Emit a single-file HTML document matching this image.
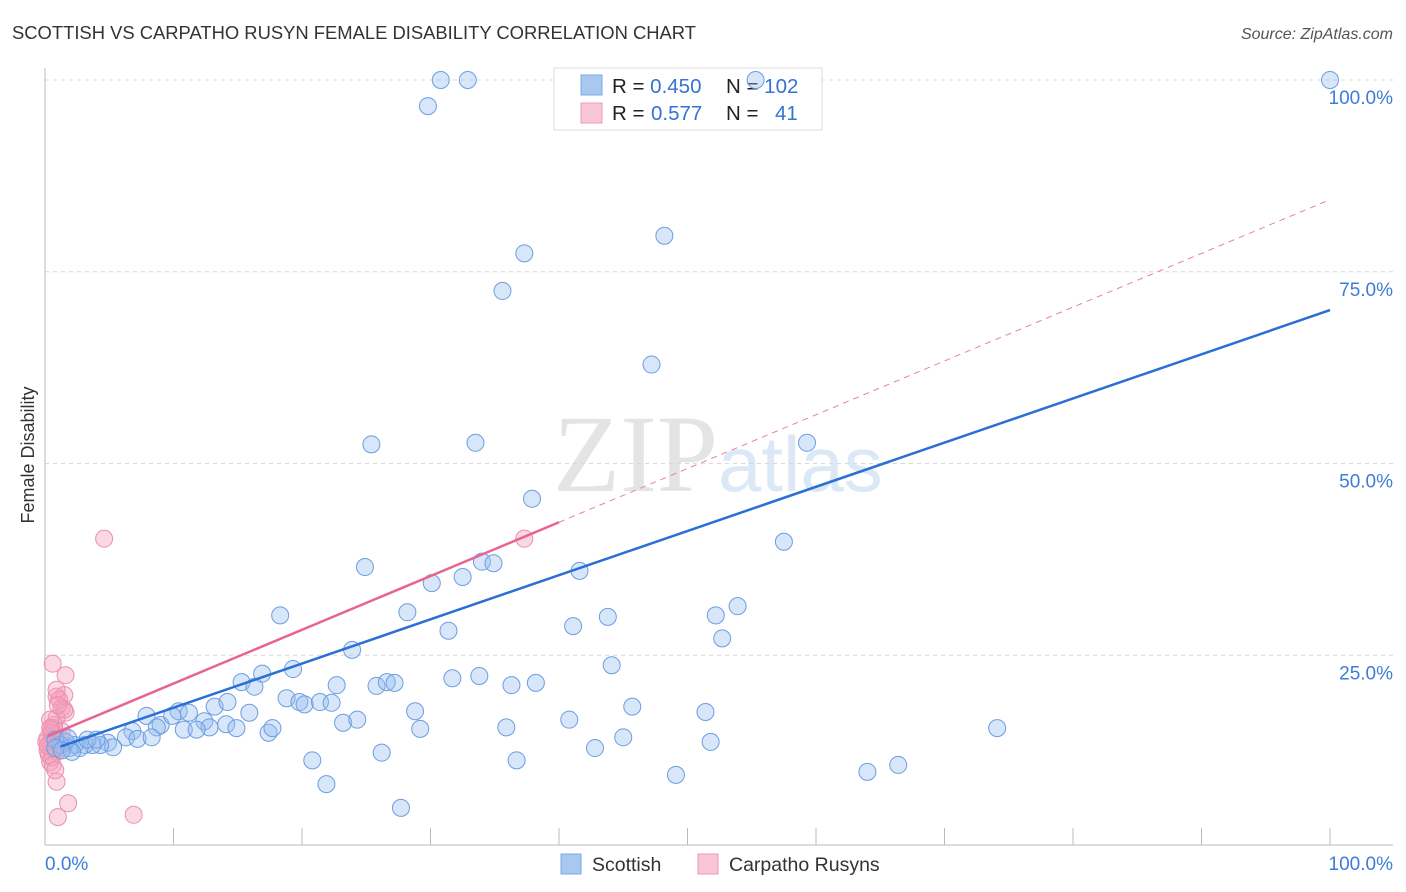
<!DOCTYPE html>
<html><head><meta charset="utf-8">
<style>
body{margin:0;background:#fff;font-family:"Liberation Sans",sans-serif;}
svg{display:block}
</style></head><body>
<svg id="chart" width="1406" height="892" viewBox="0 0 1406 892" xmlns="http://www.w3.org/2000/svg">
<text x="12" y="39" font-size="18.4" fill="#333">SCOTTISH VS CARPATHO RUSYN FEMALE DISABILITY CORRELATION CHART</text>
<text x="1393" y="39" font-size="16" fill="#555" font-style="italic" text-anchor="end">Source: ZipAtlas.com</text>
<g>
<text x="553" y="491" font-size="110" fill="#e4e4e4" font-family="Liberation Serif,serif">ZIP</text>
<text x="718" y="491" font-size="78" fill="#dde8f7">atlas</text>
</g>
<g id="grid"></g>
<g id="axes"></g>
<g>
<rect x="554" y="68" width="268" height="62" fill="#fff" stroke="#ddd"/>
<rect x="581" y="75" width="21" height="20" fill="#a9c8f0" stroke="#7aa7e3"/>
<rect x="581" y="103" width="21" height="20" fill="#f9c6d6" stroke="#ee9ab5"/>
<text x="612" y="93" font-size="20.5" fill="#222">R = <tspan fill="#3472d4">0.450</tspan><tspan x="726">N = </tspan><tspan fill="#3472d4">102</tspan></text>
<text x="612" y="120" font-size="20.5" fill="#222">R = <tspan fill="#3472d4" x="651">0.577</tspan><tspan x="726">N = </tspan><tspan fill="#3472d4" x="775">41</tspan></text>
</g>
<g id="pinkPts"></g>
<g id="bluePts"></g>
<g id="lines"></g>
<text transform="translate(34,455) rotate(-90)" font-size="18" fill="#333" text-anchor="middle">Female Disability</text>
<g>
<rect x="561" y="854" width="20" height="20" fill="#a9c8f0" stroke="#7aa7e3"/>
<text x="592" y="871" font-size="19.5" fill="#333">Scottish</text>
<rect x="698" y="854" width="20" height="20" fill="#f9c6d6" stroke="#ee9ab5"/>
<text x="729" y="871" font-size="19.5" fill="#333">Carpatho Rusyns</text>
</g>
</svg>
<script>
const yTicks=[25,50,75,100];
const yTickLabels=["25.0%","50.0%","75.0%","100.0%"];
const xTickLabels=["0.0%","100.0%"];
const blueX=[30.8,32.9,29.8,55.3,100,48.2,37.3,35.6,47.2,25.4,33.5,59.3,37.9,57.5,24.9,30.1,32.5,34.0,34.9,41.6,28.2,18.3,31.4,41.1,43.8,52.2,53.9,52.7,23.9,44.1,15.3,16.3,16.9,19.3,22.7,25.8,26.6,27.2,31.7,33.8,36.3,38.2,18.8,19.8,20.2,21.4,22.3,10.4,11.2,13.2,14.2,15.9,7.9,9.0,9.9,12.4,14.1,12.8,14.9,10.8,11.8,8.7,6.8,6.3,7.2,8.3,17.4,17.7,23.2,24.3,28.8,29.2,35.9,40.8,45.7,51.4,74.1,45.0,51.8,42.8,26.2,20.8,36.7,49.1,64.0,66.4,21.9,27.7,4.9,5.3,4.3,3.7,3.1,2.7,2.3,1.9,1.6,1.2,0.8,0.8,1.8,3.3,4.0,2.1,1.3];
const blueY=[100,100,96.6,100,100,79.7,77.4,72.5,62.9,52.5,52.7,52.7,45.4,39.8,36.5,34.4,35.2,37.2,37.0,36.0,30.6,30.2,28.2,28.8,30.0,30.2,31.4,27.2,25.7,23.7,21.5,20.9,22.6,23.2,21.1,21.0,21.5,21.4,22.0,22.3,21.1,21.4,19.4,18.9,18.6,18.9,18.8,17.7,17.5,18.3,18.9,17.5,17.1,15.9,17.1,16.4,16.0,15.6,15.5,15.3,15.3,15.6,15.1,14.3,14.1,14.3,14.9,15.5,16.2,16.6,17.7,15.4,15.6,16.6,18.3,17.6,15.5,14.3,13.7,12.9,12.3,11.3,11.3,9.4,9.8,10.7,8.2,5.1,13.6,13.0,13.3,13.3,13.3,12.9,13.3,12.9,13.7,13.3,14.0,12.9,14.2,14.0,14.0,12.4,12.6];
const pinkX=[4.6,37.3,0.6,1.6,0.9,1.5,1.1,1.3,1.6,0.9,0.7,0.5,0.8,0.5,0.4,0.6,0.9,0.5,0.4,0.7,1.0,0.2,1.2,0.5,0.9,1.8,1.0,6.9,1.5,0.4,0.2,0.3,0.6,0.1,1.2,1.3,0.9,0.2,0.8,0.4,1.0];
const pinkY=[40.2,40.2,23.9,22.4,19.6,19.8,19.2,18.1,17.5,16.8,15.9,15.3,14.6,14.0,13.3,12.9,12.4,11.7,11.1,15.5,13.6,14.2,14.2,14.9,8.5,5.7,3.9,4.2,17.9,16.6,12.6,12.0,10.7,13.7,12.9,15.1,20.5,13.2,10.0,15.5,18.5];
const blueTrend=[12.4,70.0];   // y at x=0, y at x=100
const pinkTrend=[14.3,84.4];
const pinkSolidEnd=40;
const X0=45,X1=1330,Y0=847,Y100=80;
const sx=v=>X0+(X1-X0)*v/100, sy=v=>Y0+(Y100-Y0)*v/100;
const NS="http://www.w3.org/2000/svg";
function mk(tag,attrs,parent){const e=document.createElementNS(NS,tag);for(const k in attrs)e.setAttribute(k,attrs[k]);parent.appendChild(e);return e;}
const grid=document.getElementById('grid'),axes=document.getElementById('axes');
yTicks.forEach((t,i)=>{
  const l=mk('line',{x1:45,x2:1393,y1:sy(t),y2:sy(t),stroke:'#d8d8d8','stroke-dasharray':'4,4'},grid);
  
  
  const tx=mk('text',{x:1393,y:sy(t)+24,'font-size':19,fill:'#3d7dd8','text-anchor':'end'},axes);
  tx.textContent=yTickLabels[i];
  
  
});
mk('line',{x1:45,x2:45,y1:68,y2:845,stroke:'#bbb'},axes);
mk('line',{x1:45,x2:1393,y1:845,y2:845,stroke:'#bbb'},axes);
for(let i=1;i<=10;i++){
  const t=mk('line',{x1:sx(i*10),x2:sx(i*10),y1:828,y2:845,stroke:'#bbb'},axes);
  
  
}
const xl0=mk('text',{x:45,y:870,'font-size':19,fill:'#3d7dd8'},axes);xl0.textContent=xTickLabels[0];


const xl1=mk('text',{x:1393,y:870,'font-size':19,fill:'#3d7dd8','text-anchor':'end'},axes);xl1.textContent=xTickLabels[1];


const bp=document.getElementById('bluePts'),pp=document.getElementById('pinkPts');
pinkX.forEach((x,i)=>{
  const c=mk('circle',{cx:sx(x),cy:sy(pinkY[i]),r:8.5,fill:'rgba(244,160,188,0.4)',stroke:'#ea8fae','stroke-width':1},pp);
  
  
});
blueX.forEach((x,i)=>{
  const c=mk('circle',{cx:sx(x),cy:sy(blueY[i]),r:8.5,fill:'rgba(150,190,238,0.38)',stroke:'#6d9de0','stroke-width':1},bp);
  
  
});
const ln=document.getElementById('lines');
const pt=x=>pinkTrend[0]+(pinkTrend[1]-pinkTrend[0])*x/100;
const bt=x=>blueTrend[0]+(blueTrend[1]-blueTrend[0])*x/100;
const pd=mk('line',{x1:sx(pinkSolidEnd),y1:sy(pt(pinkSolidEnd)),x2:sx(100),y2:sy(pt(100)),stroke:'#e8809f','stroke-width':1,'stroke-dasharray':'6,5'},ln);


const ps=mk('line',{x1:sx(0.2),y1:sy(pt(0.2)),x2:sx(pinkSolidEnd),y2:sy(pt(pinkSolidEnd)),stroke:'#e8648e','stroke-width':2.5},ln);


const bl=mk('line',{x1:sx(1.2),y1:sy(bt(1.2)),x2:sx(100),y2:sy(bt(100)),stroke:'#2a6fd6','stroke-width':2.5},ln);


</script>
</body></html>
